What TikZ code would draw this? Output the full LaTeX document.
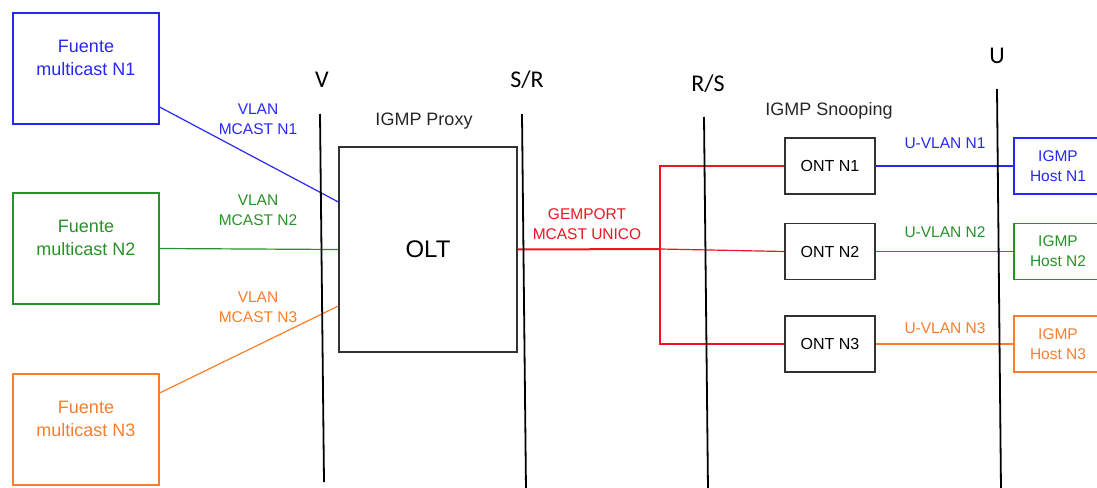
\documentclass[tikz,border=0pt]{standalone}
\usepackage{fontspec}
\setmainfont{Liberation Sans}
\newfontfamily\calib{Carlito}
\definecolor{cblue}{RGB}{40,40,245}
\definecolor{cgreen}{RGB}{40,145,40}
\definecolor{corange}{RGB}{250,125,45}
\definecolor{cred}{RGB}{240,20,35}
\definecolor{cbox}{RGB}{50,50,50}
\begin{document}
\begin{tikzpicture}[x=1pt,y=-1pt,
  srcbox/.style={draw, line width=1.2pt, minimum width=146pt, minimum height=111pt, inner sep=0pt},
  srctext/.style={font=\fontsize{18}{23}\selectfont, align=center, inner sep=0pt},
  lbl/.style={font=\fontsize{15.5}{20}\selectfont, align=center, inner sep=0pt},
  ttl/.style={font=\fontsize{18}{22}\selectfont, inner sep=0pt, text=black!85},
  refl/.style={font=\calib\fontsize{24}{28}\selectfont, inner sep=0pt},
  oltbox/.style={draw=cbox, line width=1.3pt, minimum width=178pt, minimum height=205pt, font=\fontsize{24}{28}\selectfont, inner sep=0pt},
  ontbox/.style={draw=cbox, line width=1.4pt, minimum width=90pt, minimum height=56pt, font=\fontsize{16}{20}\selectfont, inner sep=0pt},
  hostbox/.style={draw, line width=1.2pt, minimum width=88pt, minimum height=56pt, align=center, font=\fontsize{15.5}{20}\selectfont, inner sep=0pt},
  refline/.style={line width=1.8pt, black},
  link/.style={line width=1.2pt}]
\useasboundingbox (0,0) rectangle (1097,487);
\clip (0,0) rectangle (1097,487);

% source boxes
\node[srcbox, draw=cblue] (f1) at (86,68.5) {};
\node[srctext, text=cblue] (f1t) at ([yshift=11pt]f1.center) {Fuente\\multicast N1};
\node[srcbox, draw=cgreen] (f2) at (86,248.5) {};
\node[srctext, text=cgreen] (f2t) at ([yshift=11pt]f2.center) {Fuente\\multicast N2};
\node[srcbox, draw=corange] (f3) at (86,429.5) {};
\node[srctext, text=corange] (f3t) at ([yshift=11pt]f3.center) {Fuente\\multicast N3};

% OLT
\node[oltbox] (olt) at (428,249.5) {OLT};
\node[ttl] (proxy) at (424,121) {IGMP Proxy};

% ONTs
\node[ontbox] (ont1) at (830,166) {ONT N1};
\node[ontbox] (ont2) at (830,251.5) {ONT N2};
\node[ontbox] (ont3) at (830,344) {ONT N3};
\node[ttl] (snoop) at (829,111) {IGMP Snooping};

% hosts
\node[hostbox, draw=cblue, text=cblue] (h1) at (1058,166) {IGMP\\Host N1};
\node[hostbox, draw=cgreen, text=cgreen] (h2) at (1058,251.5) {IGMP\\Host N2};
\node[hostbox, draw=corange, text=corange] (h3) at (1058,344) {IGMP\\Host N3};

% links left
\draw[link, cblue] ([yshift=-38.5pt]f1.east) -- ([yshift=47.5pt]olt.west);
\draw[link, cgreen] (f2.east) -- (olt.west);
\draw[link, corange] ([yshift=36.5pt]f3.east) -- ([yshift=-56.5pt]olt.west);
\node[lbl, text=cblue] (l1) at (258,119) {VLAN\\MCAST N1};
\node[lbl, text=cgreen] (l2) at (258,210) {VLAN\\MCAST N2};
\node[lbl, text=corange] (l3) at (258,307.5) {VLAN\\MCAST N3};

% red tree
\coordinate (j) at (660,249);
\draw[cred, line width=2pt] (olt.east) -- (j);
\draw[link, cred] (j) -- (ont2.west);
\draw[link, cred] (ont1.west) -| (j) |- (ont3.west);
\node[lbl, text=cred] (gem) at (587,224) {GEMPORT\\MCAST UNICO};

% links right
\draw[link, cblue] (ont1.east) -- (h1.west);
\draw[link, cgreen] (ont2.east) -- (h2.west);
\draw[link, corange] (ont3.east) -- (h3.west);
\node[lbl, text=cblue] (u1) at (945,143) {U-VLAN N1};
\node[lbl, text=cgreen] (u2) at (945,232) {U-VLAN N2};
\node[lbl, text=corange] (u3) at (945,328) {U-VLAN N3};

% reference lines
\coordinate (vt) at (320,114); \coordinate (vb) at (324,482);
\coordinate (srt) at (522,114); \coordinate (srb) at (526,490);
\coordinate (rst) at (704,117); \coordinate (rsb) at (708,490);
\coordinate (ut) at (997,89); \coordinate (ub) at (1001,490);
\draw[refline] (vt) -- (vb);
\draw[refline] (srt) -- (srb);
\draw[refline] (rst) -- (rsb);
\draw[refline] (ut) -- (ub);
\node[refl] (vl) at (322,80) {V};
\node[refl] (srl) at (527,80) {S/R};
\node[refl] (rsl) at (708,84) {R/S};
\node[refl] (ul) at (997,56) {U};
\end{tikzpicture}
\end{document}
